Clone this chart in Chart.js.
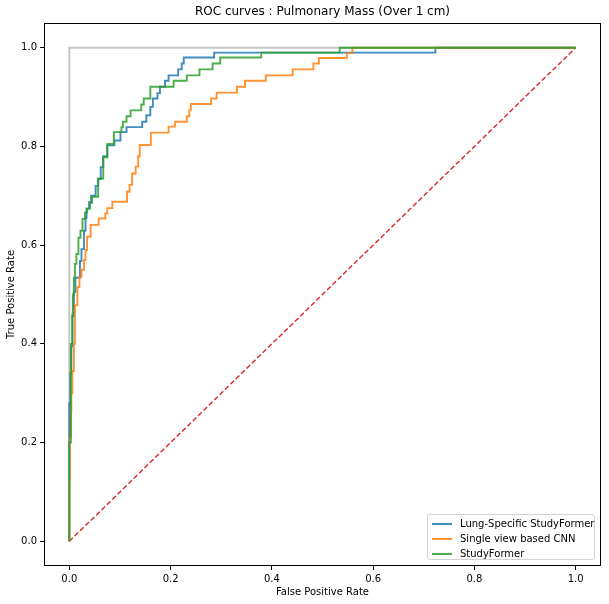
<!DOCTYPE html>
<html>
<head>
<meta charset="utf-8">
<script src="https://cdn.jsdelivr.net/npm/chart.js@4.4.0/dist/chart.umd.min.js"></script>
<style>
  html, body { margin: 0; padding: 0; background: #fff; }
  #wrap { position: relative; width: 609px; height: 604px; }
  #title { position: absolute; left: 44px; width: 557px; top: 4px; text-align: center;
    font-family: 'DejaVu Sans', sans-serif; font-size: 12px; line-height: 15px; color: #000; white-space: nowrap; }
  #legend { position: absolute; left: 427px; top: 514px; width: 168px; height: 46px;
    border: 1px solid #d3d3d3; border-radius: 3px; background: rgba(255,255,255,0.8);
    font-family: 'DejaVu Sans', sans-serif; font-size: 10px; color: #000; box-sizing: border-box; }
  .row { position: absolute; left: 0; height: 12px; line-height: 12px; white-space: nowrap; }
  .sw { position: absolute; left: 4px; top: 5px; width: 20px; height: 2px; }
  .lab { position: absolute; left: 32px; top: 0; }
</style>
</head>
<body>
<div id="wrap">
  <canvas id="c" width="609" height="604"></canvas>
  <div id="title"></div>
  <div id="legend"></div>
</div>
<script>
// ---- data ----
const seriesNames = ["Lung-Specific StudyFormer", "Single view based CNN", "StudyFormer"];
const seriesColors = ["rgba(31,119,180,0.85)", "rgba(255,127,14,0.85)", "rgba(44,160,44,0.85)"];

const lungFpr = [0, 0, 0.002, 0.004, 0.006, 0.009, 0.012, 0.021, 0.024, 0.029, 0.032, 0.034, 0.039, 0.043, 0.052, 0.057, 0.062, 0.067, 0.075, 0.089, 0.101, 0.113, 0.144, 0.152, 0.160, 0.165, 0.174, 0.179, 0.189, 0.196, 0.215, 0.222, 0.226, 0.286, 0.723, 1];
const lungTpr = [0, 0.28, 0.34, 0.395, 0.456, 0.505, 0.534, 0.568, 0.592, 0.629, 0.655, 0.674, 0.687, 0.700, 0.720, 0.734, 0.758, 0.780, 0.802, 0.812, 0.829, 0.839, 0.850, 0.863, 0.880, 0.897, 0.908, 0.921, 0.933, 0.944, 0.956, 0.968, 0.980, 0.990, 1.0, 1.0];

const cnnFpr = [0, 0, 0.001, 0.003, 0.004, 0.006, 0.009, 0.011, 0.016, 0.020, 0.024, 0.029, 0.032, 0.035, 0.042, 0.058, 0.071, 0.075, 0.085, 0.114, 0.119, 0.124, 0.131, 0.136, 0.139, 0.161, 0.196, 0.209, 0.232, 0.237, 0.240, 0.280, 0.291, 0.331, 0.347, 0.388, 0.441, 0.482, 0.493, 0.548, 0.559, 1];
const cnnTpr = [0, 0.124, 0.210, 0.265, 0.300, 0.345, 0.400, 0.478, 0.515, 0.536, 0.550, 0.570, 0.590, 0.617, 0.641, 0.654, 0.664, 0.675, 0.688, 0.708, 0.722, 0.745, 0.759, 0.780, 0.803, 0.828, 0.840, 0.850, 0.861, 0.874, 0.886, 0.897, 0.909, 0.921, 0.933, 0.944, 0.956, 0.968, 0.979, 0.989, 1.0, 1.0];

const sfFpr = [0, 0, 0.003, 0.006, 0.007, 0.009, 0.011, 0.014, 0.018, 0.022, 0.026, 0.031, 0.035, 0.041, 0.045, 0.057, 0.067, 0.075, 0.088, 0.103, 0.106, 0.113, 0.121, 0.142, 0.147, 0.160, 0.206, 0.232, 0.257, 0.283, 0.298, 0.379, 0.534, 1];
const sfTpr = [0, 0.20, 0.40, 0.46, 0.50, 0.534, 0.562, 0.582, 0.615, 0.629, 0.653, 0.666, 0.674, 0.686, 0.698, 0.735, 0.778, 0.805, 0.829, 0.839, 0.850, 0.861, 0.873, 0.885, 0.897, 0.921, 0.933, 0.944, 0.956, 0.968, 0.980, 0.990, 1.0, 1.0];

const perfectFpr = [0, 0, 1];
const perfectTpr = [0, 1, 1];
const chanceFpr = [0, 1];
const chanceTpr = [0, 1];

const tickValues = [0, 0.2, 0.4, 0.6, 0.8, 1.0];
const titleText = "ROC curves : Pulmonary Mass (Over 1 cm)";
const xLabel = "False Positive Rate";
const yLabel = "True Positive Rate";

// ---- build ----
const zip = (xs, ys) => xs.map((x, i) => ({x: x, y: ys[i]}));
const FONT = "'DejaVu Sans', sans-serif";

const frame = {
  id: 'frame',
  afterDraw(chart) {
    const {ctx, chartArea: a} = chart;
    ctx.save();
    ctx.strokeStyle = '#000';
    ctx.lineWidth = 1;
    ctx.strokeRect(Math.round(a.left) + 0.5, Math.round(a.top) + 0.5, Math.round(a.right - a.left) - 1, Math.round(a.bottom - a.top) - 1);
    ctx.restore();
  }
};

const axisCommon = (label, isX) => ({
  type: 'linear', min: -0.05, max: 1.05,
  afterBuildTicks: s => { s.ticks = tickValues.map(v => ({value: v})); },
  ticks: { color: '#000', font: {family: FONT, size: 10}, padding: 3, autoSkip: false, maxRotation: 0,
           callback: v => Number(v).toFixed(1) },
  grid: { display: true, drawOnChartArea: false, drawTicks: true, tickLength: 4, color: '#000' },
  border: { display: false },
  title: { display: true, text: label, color: '#000', font: {family: FONT, size: 10},
           padding: isX ? {top: 0, bottom: 6} : {top: 5, bottom: 0} },
  afterFit: s => { if (isX) s.height = 38; else s.width = 44; }
});

const lineDs = (label, xs, ys, color, order, width) => ({
  label: label, data: zip(xs, ys), borderColor: color, backgroundColor: color,
  borderWidth: width, pointRadius: 0, fill: false, stepped: true, order: order
});

new Chart(document.getElementById('c'), {
  type: 'line',
  data: {
    datasets: [
      lineDs(seriesNames[2], sfFpr, sfTpr, seriesColors[2], 1, 1.9),
      lineDs(seriesNames[1], cnnFpr, cnnTpr, seriesColors[1], 2, 1.9),
      lineDs(seriesNames[0], lungFpr, lungTpr, seriesColors[0], 3, 1.9),
      { label: 'chance', data: zip(chanceFpr, chanceTpr), borderColor: '#d62728', borderWidth: 1.4,
        borderDash: [5, 2.5], pointRadius: 0, fill: false, order: 4 },
      { label: 'perfect', data: zip(perfectFpr, perfectTpr), borderColor: 'rgba(160,160,160,0.6)', borderWidth: 2,
        pointRadius: 0, fill: false, order: 5 }
    ]
  },
  options: {
    responsive: false, animation: false, devicePixelRatio: 1,
    layout: { padding: {left: 0, right: 8, top: 23, bottom: 0} },
    plugins: {
      legend: { display: false },
      tooltip: { enabled: false },
      title: { display: false }
    },
    scales: { x: axisCommon(xLabel, true), y: axisCommon(yLabel, false) }
  },
  plugins: [frame]
});

// ---- title and legend (HTML text) ----
document.getElementById('title').textContent = titleText;
const leg = document.getElementById('legend');
seriesNames.forEach((name, i) => {
  const row = document.createElement('div');
  row.className = 'row';
  row.style.top = (3 + i * 15) + 'px';
  row.style.width = '100%';
  const sw = document.createElement('span');
  sw.className = 'sw'; sw.style.background = seriesColors[i];
  const lab = document.createElement('span');
  lab.className = 'lab'; lab.textContent = name;
  row.appendChild(sw); row.appendChild(lab);
  leg.appendChild(row);
});
</script>
</body>
</html>
